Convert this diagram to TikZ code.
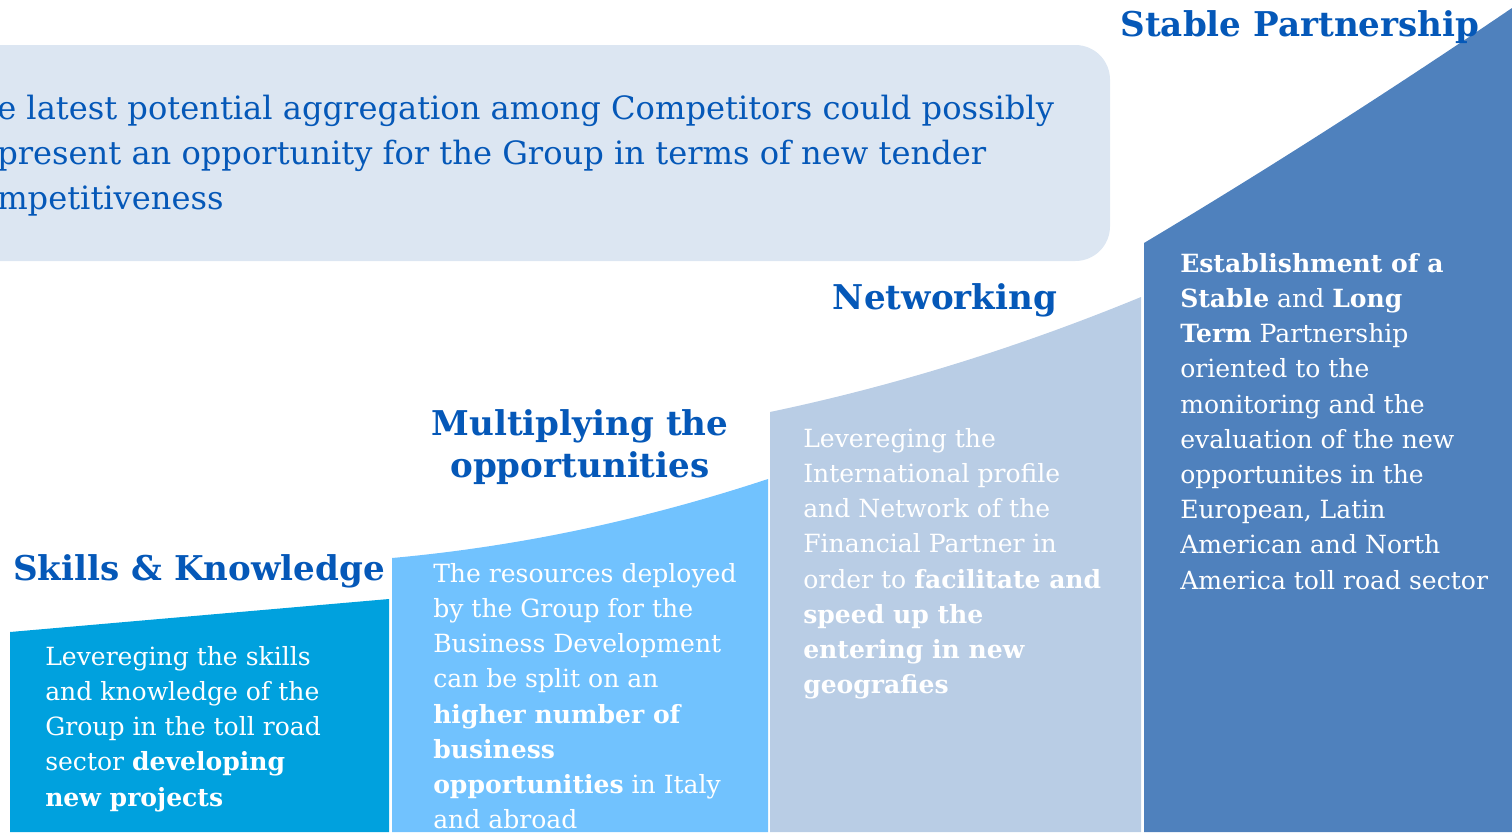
\documentclass[tikz,border=0pt]{standalone}
\usepackage{fontspec}
\setmainfont{DejaVu Serif}

\definecolor{skillsfill}{RGB}{0,161,222}
\definecolor{multifill}{RGB}{113,194,254}
\definecolor{netfill}{RGB}{185,205,229}
\definecolor{stablefill}{RGB}{79,129,189}
\definecolor{calloutfill}{RGB}{220,230,242}
\definecolor{titleblue}{RGB}{5,88,184}

\tikzset{
  steptitle/.style={inner sep=0.75pt, text=titleblue, align=center, font=\fontsize{25.6}{32}\selectfont\bfseries},
  stepbody/.style={anchor=north west, inner sep=0pt, text=white, align=left, font=\fontsize{18.8}{26.4}\selectfont},
}

\begin{document}
\begin{tikzpicture}[x=0.75pt,y=0.75pt,yscale=-1,xscale=1]
      \useasboundingbox (0,0) rectangle (1512,832);
      \clip (0,0) rectangle (1512,832);

      %Rounded Rect [callout]
      \fill [calloutfill, rounded corners=26pt] (-60,45) rectangle (1110,261);
      %Shape: skills step
      \fill [skillsfill] (10,632) -- (389,599) -- (389,832) -- (10,832) -- cycle;
      %Shape: multiplying step
      \fill [multifill] (392,558) .. controls (517.3,546.7) and (642.7,520.3) .. (768,479) -- (768,832) -- (392,832) -- cycle;
      %Shape: networking step
      \fill [netfill] (770,412) .. controls (894,386) and (1017.7,347.7) .. (1141,297) -- (1141,832) -- (770,832) -- cycle;
      %Shape: stable step
      \fill [stablefill] (1144,243) .. controls (1266.7,169.7) and (1389.3,91.3) .. (1512,8) -- (1512,832) -- (1144,832) -- cycle;

      % Text Node
      \node (callouttext) at (-3,95) [anchor=north west, inner sep=0pt, text=titleblue, align=left, font=\fontsize{24.1}{33.75}\selectfont] {e latest potential aggregation among Competitors could possibly\\present an opportunity for the Group in terms of new tender\\mpetitiveness};

      % Text Node
      \node (skillstitle) at (199,571) [steptitle] {Skills \& Knowledge};
      % Text Node
      \node (multititle) at (580,447) [steptitle] {Multiplying the\\opportunities};
      % Text Node
      \node (nettitle) at (945,300) [steptitle] {Networking};
      % Text Node
      \node (stabletitle) at (1300,27) [steptitle] {Stable Partnership};

      % Text Node
      \node (skillsbody) at (45,646) [stepbody] {Levereging the skills\\and knowledge of the\\Group in the toll road\\sector \textbf{developing}\\\textbf{new projects}};
      % Text Node
      \node (multibody) at (433,563) [stepbody] {The resources deployed\\by the Group for the\\Business Development\\can be split on an\\\textbf{higher number of}\\\textbf{business}\\\textbf{opportunities} in Italy\\and abroad};
      % Text Node
      \node (netbody) at (803,428) [stepbody] {Levereging the\\International profile\\and Network of the\\Financial Partner in\\order to \textbf{facilitate and}\\\textbf{speed up the}\\\textbf{entering in new}\\\textbf{geografies}};
      % Text Node
      \node (stablebody) at (1180,253) [stepbody] {\textbf{Establishment of a}\\\textbf{Stable} and \textbf{Long}\\\textbf{Term} Partnership\\oriented to the\\monitoring and the\\evaluation of the new\\opportunites in the\\European, Latin\\American and North\\America toll road sector};
\end{tikzpicture}
\end{document}
